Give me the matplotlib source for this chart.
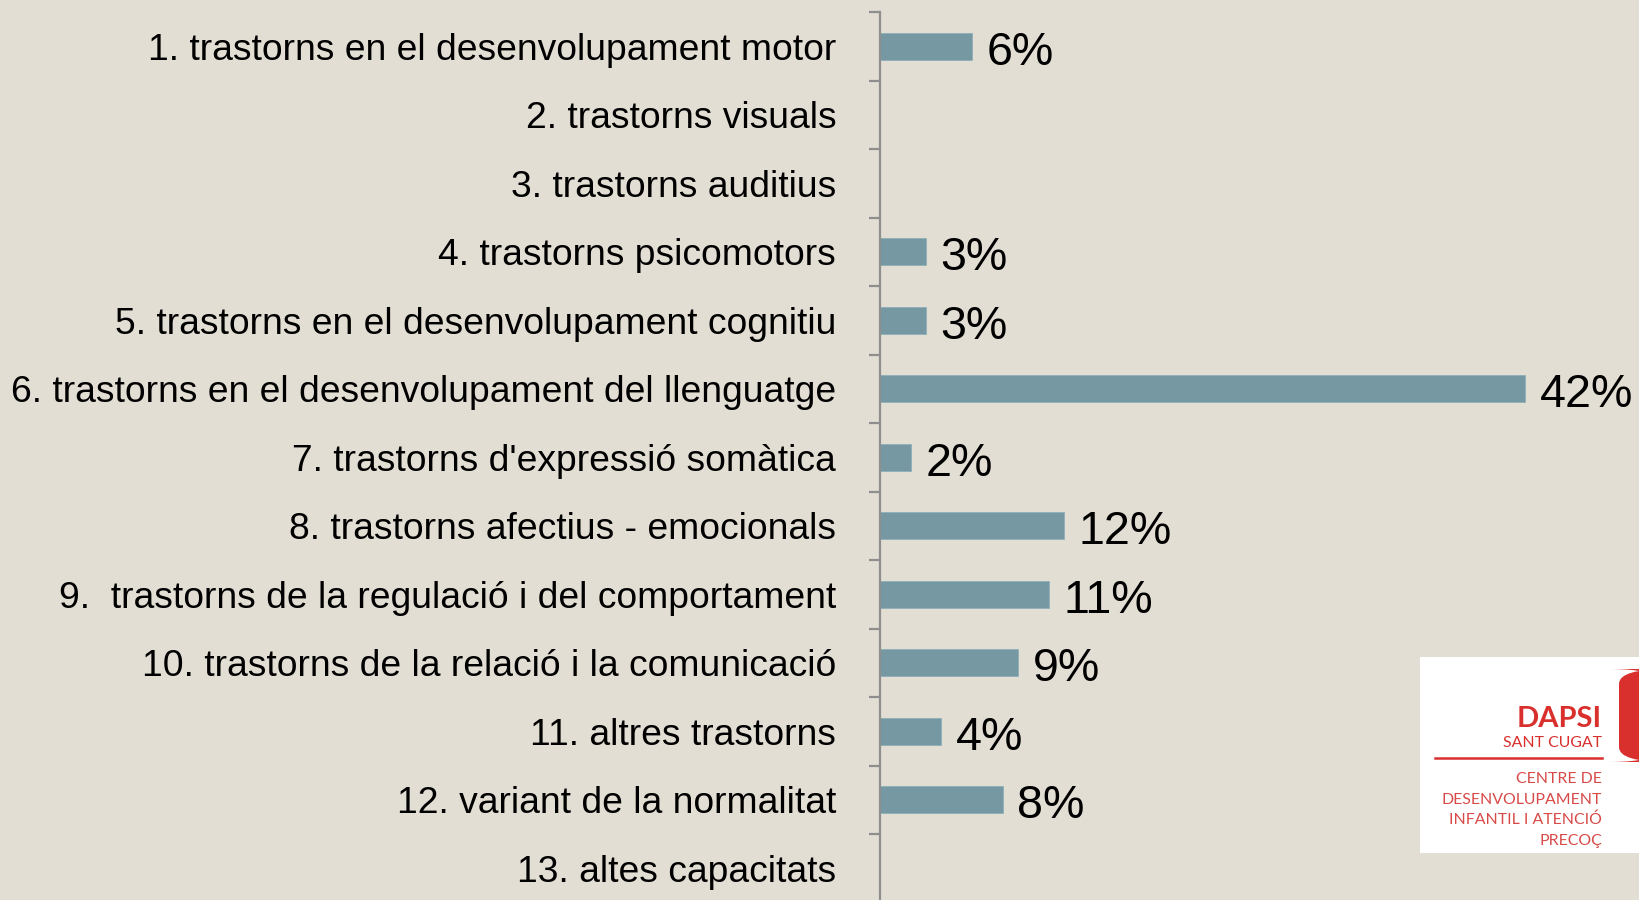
import matplotlib
matplotlib.use("Agg")
import matplotlib.pyplot as plt
from matplotlib.patches import FancyBboxPatch, Rectangle
import numpy as np

categories = [
    "1. trastorns en el desenvolupament motor",
    "2. trastorns visuals",
    "3. trastorns auditius",
    "4. trastorns psicomotors",
    "5. trastorns en el desenvolupament cognitiu",
    "6. trastorns en el desenvolupament del llenguatge",
    "7. trastorns d'expressió somàtica",
    "8. trastorns afectius - emocionals",
    "9.  trastorns de la regulació i del comportament",
    "10. trastorns de la relació i la comunicació",
    "11. altres trastorns",
    "12. variant de la normalitat",
    "13. altes capacitats",
]
values = [6, 0, 0, 3, 3, 42, 2, 12, 11, 9, 4, 8, 0]

BG = "#E3DED4"
BAR = "#7598A3"
AXC = "#8E8E8E"
RED = "#D9302E"

W, H = 1639, 900
fig = plt.figure(figsize=(W / 100, H / 100), dpi=100, facecolor=BG)
plt.rcParams['font.family'] = ['Liberation Sans', 'DejaVu Sans']

x0 = 880 / W
xmax = 49
wid = xmax * 15.36 / W
top = 12
step = 68.5
bottom_px = top + step * 13
ax = fig.add_axes([x0, 1 - bottom_px / H, wid, (bottom_px - top) / H])
ax.set_facecolor("none")

y = np.arange(len(categories))
ax.barh(y, values, height=0.4, color=BAR, edgecolor="#8FB0B8", linewidth=0.6)
ax.set_xlim(0, xmax)
ax.set_ylim(len(categories) - 0.5, -0.5)

for yi, v in zip(y, values):
    if v > 0:
        ax.annotate(f"{v}%", xy=(v, yi), xytext=(10.5, -13.2),
                    textcoords="offset points", va="baseline", ha="left",
                    fontsize=33.6, color="black")

for s in ["top", "right", "bottom"]:
    ax.spines[s].set_visible(False)
ax.spines["left"].set_color(AXC)
ax.spines["left"].set_linewidth(1.6)
ax.set_xticks([])
ax.set_yticks(np.arange(-0.5, len(categories) + 0.5, 1))
ax.set_yticklabels([])
ax.tick_params(axis="y", which="major", length=8, width=1.6, color=AXC)
ax.set_yticks(y, minor=True)
ax.set_yticklabels(categories, minor=True, fontsize=26.8)
ax.tick_params(axis="y", which="minor", length=0, pad=31.5)

# logo
lx0, ly0, lx1, ly1 = 1420, 657, 1639, 853
fig.patches.append(Rectangle((lx0 / W, 1 - ly1 / H), (lx1 - lx0) / W, (ly1 - ly0) / H,
                             transform=fig.transFigure, facecolor="white",
                             edgecolor="none"))
fig.patches.append(FancyBboxPatch((1619 / W, 1 - 762 / H), 40 / W, 93 / H,
                                  boxstyle="round,pad=0,rounding_size=0.03",
                                  transform=fig.transFigure, facecolor=RED,
                                  edgecolor="none", mutation_aspect=H / W))
rx = 1602 / W
fig.text(rx, 1 - 727 / H, "DAPSI", ha="right", va="baseline", fontsize=21,
         fontweight="bold", color=RED, family=["Lato", "DejaVu Sans"])
fig.text(rx, 1 - 747 / H, "SANT CUGAT", ha="right", va="baseline", fontsize=11.4,
         color=RED, family=["Lato", "DejaVu Sans"])
fig.add_artist(plt.Line2D([1435 / W, rx], [1 - 758 / H, 1 - 758 / H],
                          transform=fig.transFigure, color=RED, lw=1.8))
for i, t in enumerate(["CENTRE DE", "DESENVOLUPAMENT", "INFANTIL I ATENCIÓ", "PRECOÇ"]):
    fig.text(rx, 1 - (783 + 20.5 * i) / H, t, ha="right", va="baseline", fontsize=11.4,
             color="#D84A48", family=["Lato", "DejaVu Sans"])

fig.savefig("out.png", dpi=100, facecolor=BG)
